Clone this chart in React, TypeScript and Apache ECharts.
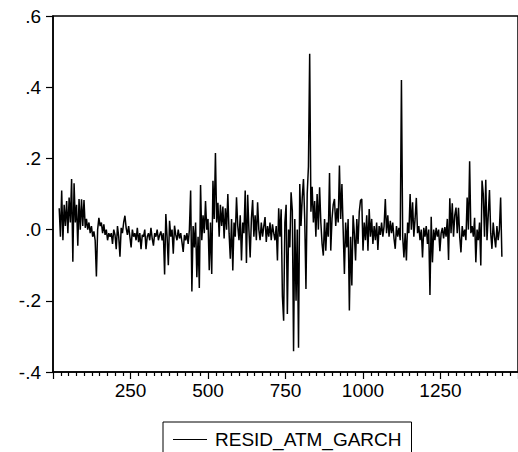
import React, { useEffect, useRef } from "react";
import * as echarts from "echarts";

// Observation index of the first plotted value and spacing between values
const obsStart = 20;
const obsStep = 4;

// RESID_ATM_GARCH residuals
const resid: number[] = [
  0.06, -0.02, 0.11, -0.03, 0.07, 0.01, 0.08, -0.01, 0.09, 0.02,
  0.142, -0.09, 0.13, 0.02, 0.07, -0.045, 0.086, 0.0, 0.085, 0.01,
  0.083, 0.005, 0.03, 0.0, 0.02, -0.01, 0.01, -0.02, -0.005, -0.03,
  -0.132, 0.0, 0.033, 0.01, 0.02, -0.01, 0.015, -0.015, 0.0, -0.03,
  -0.01, -0.02, -0.01, -0.04, 0.0, -0.015, -0.055, 0.01, -0.02, -0.076,
  0.005, -0.01, 0.02, 0.039, 0.005, -0.015, 0.01, -0.02, -0.05, 0.0,
  -0.02, -0.01, -0.03, 0.005, -0.035, -0.01, -0.055, -0.015, -0.02, 0.0,
  -0.055, -0.02, -0.01, -0.03, 0.005, -0.025, -0.045, -0.01, -0.02, 0.0,
  -0.03, -0.015, -0.005, -0.03, -0.01, -0.126, 0.044, -0.02, -0.1, 0.025,
  -0.02, 0.0, -0.068, 0.011, -0.015, -0.03, 0.0, -0.025, -0.01, -0.035,
  -0.063, -0.015, -0.03, -0.01, -0.04, 0.0, 0.11, -0.174, 0.01, -0.05,
  0.02, -0.134, -0.02, -0.164, 0.125, -0.03, 0.04, -0.01, 0.08, 0.0,
  0.03, -0.114, 0.02, -0.125, 0.137, 0.03, 0.215, 0.02, 0.075, -0.02,
  0.07, 0.01, 0.065, -0.025, 0.06, 0.0, 0.1, -0.01, -0.082, 0.03,
  -0.115, 0.02, -0.02, 0.091, 0.01, -0.03, 0.04, -0.087, 0.02, -0.01,
  0.11, -0.094, 0.098, 0.0, -0.078, 0.03, 0.083, -0.02, 0.04, -0.03,
  0.077, 0.0, -0.03, 0.02, -0.02, 0.01, 0.035, -0.035, 0.01, -0.02,
  0.02, -0.03, 0.015, -0.01, -0.03, 0.01, -0.087, 0.06, -0.02, 0.057,
  -0.187, -0.256, 0.02, 0.07, -0.237, 0.0, -0.05, 0.105, 0.053, -0.342,
  0.03, -0.2, 0.0, -0.332, 0.128, 0.01, 0.09, 0.142, 0.03, -0.167,
  0.1, 0.177, 0.494, 0.05, 0.12, 0.02, 0.08, -0.02, 0.1, 0.0,
  0.119, 0.02, -0.04, -0.073, 0.03, -0.059, 0.02, -0.02, 0.159, -0.059,
  0.03, 0.07, 0.086, 0.01, 0.06, 0.02, 0.18, 0.03, 0.128, 0.0,
  -0.125, 0.02, -0.05, 0.03, -0.227, -0.02, -0.157, 0.04, -0.01, -0.087,
  0.03, -0.04, 0.05, 0.082, 0.086, -0.059, 0.02, -0.03, 0.04, -0.059,
  0.058, -0.02, 0.03, -0.04, 0.01, -0.03, 0.02, -0.057, 0.01, -0.015,
  0.02, -0.02, 0.01, 0.086, -0.01, 0.04, -0.02, 0.025, -0.01, 0.02,
  -0.025, -0.054, 0.01, -0.02, 0.005, -0.03, 0.42, -0.02, -0.078, -0.01,
  -0.087, 0.02, -0.01, 0.1, 0.0, 0.077, -0.02, 0.03, 0.089, -0.01,
  0.01, -0.03, 0.0, -0.078, 0.005, -0.02, 0.01, -0.04, 0.0, -0.184,
  0.036, -0.092, 0.0, -0.03, 0.005, -0.02, 0.0, -0.061, -0.01, 0.005,
  -0.025, 0.007, -0.02, 0.03, -0.085, 0.088, -0.01, 0.074, -0.02, 0.04,
  0.062, -0.01, 0.061, -0.02, -0.064, 0.01, -0.02, 0.0, -0.03, 0.09,
  0.0, 0.192, -0.01, 0.01, -0.02, 0.033, -0.092, 0.0, -0.03, 0.02,
  -0.101, 0.138, 0.1, -0.02, 0.14, -0.03, 0.04, 0.111, -0.01, -0.054,
  0.02, -0.02, -0.05, 0.01, -0.03, 0.0, 0.09, -0.076,
];

const seriesName = "RESID_ATM_GARCH";
const xTickValues = [250, 500, 750, 1000, 1250];
const yMin = -0.4;
const yMax = 0.6;
const yStep = 0.2;
const xMin = 0;
const xMax = 1500;
const xStep = 250;

const FONT = "'Liberation Sans', Arial, Helvetica, sans-serif";

export default function App() {
  const ref = useRef<HTMLDivElement>(null);

  useEffect(() => {
    if (!ref.current) return;
    const chart = echarts.init(ref.current, undefined, { renderer: "svg" });
    const data = resid.map((v, i) => [obsStart + i * obsStep, v]);

    chart.setOption({
      animation: false,
      backgroundColor: "#ffffff",
      textStyle: { fontFamily: FONT },
      grid: {
        left: 53,
        top: 16,
        width: 482,
        height: 356,
        show: true,
        borderColor: "#000",
        borderWidth: 1.5,
        backgroundColor: "transparent",
      },
      legend: {
        left: 163,
        top: 422,
        orient: "horizontal",
        icon: "rect",
        itemWidth: 34,
        itemHeight: 1,
        padding: [8, 10, 16, 10],
        borderColor: "#000",
        borderWidth: 1,
        backgroundColor: "#fff",
        textStyle: {
          fontFamily: FONT,
          fontSize: 19,
          color: "#000",
          padding: [0, 0, 0, 3],
        },
        data: [{ name: seriesName, itemStyle: { color: "#000" } }],
      },
      xAxis: {
        type: "value",
        min: xMin,
        max: xMax,
        interval: xStep,
        axisLine: {
          show: true,
          onZero: false,
          lineStyle: { color: "#000", width: 1.5 },
        },
        axisTick: {
          show: true,
          inside: false,
          length: 7,
          lineStyle: { color: "#000", width: 1.2 },
        },
        minorTick: {
          show: true,
          splitNumber: 10,
          length: 4,
          lineStyle: { color: "#000", width: 1.2 },
        },
        splitLine: { show: false },
        minorSplitLine: { show: false },
        axisLabel: {
          show: true,
          showMinLabel: false,
          showMaxLabel: false,
          margin: 9,
          fontFamily: FONT,
          fontSize: 19,
          color: "#000",
          formatter: (v: number) =>
            xTickValues.indexOf(Math.round(v)) >= 0 ? String(Math.round(v)) : "",
        },
      },
      yAxis: {
        type: "value",
        min: yMin,
        max: yMax,
        interval: yStep,
        axisLine: {
          show: true,
          onZero: false,
          lineStyle: { color: "#000", width: 1.5 },
        },
        axisTick: {
          show: true,
          inside: false,
          length: 7,
          lineStyle: { color: "#000", width: 1.2 },
        },
        splitLine: { show: false },
        axisLabel: {
          margin: 12,
          fontFamily: FONT,
          fontSize: 19,
          color: "#000",
          formatter: (v: number) => {
            if (Math.abs(v) < 1e-9) return ".0";
            return v.toFixed(1).replace("0.", ".");
          },
        },
      },
      series: [
        {
          name: seriesName,
          type: "line",
          data,
          showSymbol: false,
          symbol: "none",
          smooth: false,
          lineStyle: { color: "#000", width: 1.5 },
          itemStyle: { color: "#000" },
          clip: true,
        },
      ],
    });

    return () => {
      chart.dispose();
    };
  }, []);

  return (
    <div
      ref={ref}
      style={{
        position: "fixed",
        left: 0,
        top: 0,
        width: 518,
        height: 452,
        background: "#fff",
      }}
    />
  );
}
